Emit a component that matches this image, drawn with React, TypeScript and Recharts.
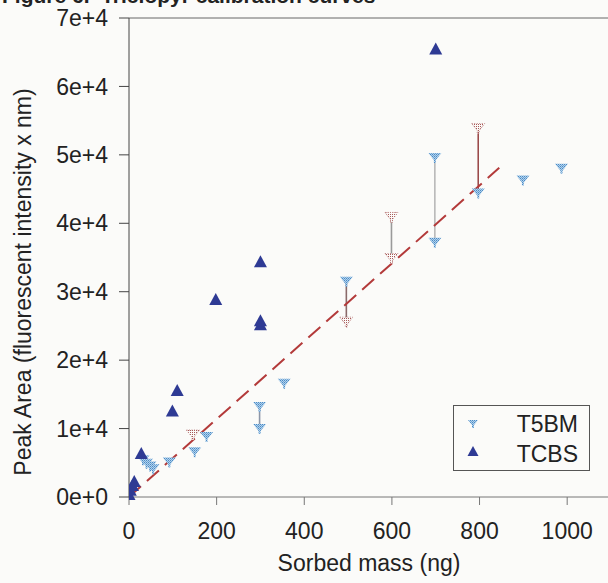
import React from 'react';
import { ScatterChart, Scatter, XAxis, YAxis, ReferenceLine, Legend, Label } from 'recharts';

// T5BM replicates (light blue, dithered)
const t5bmMass = [32, 40, 48, 55, 92, 150, 177, 298, 298, 354, 496, 698, 698, 797, 899, 987];
const t5bmArea = [5500, 5000, 4600, 4200, 5200, 6700, 8900, 13300, 10100, 16700, 31600, 37300, 49700, 44500, 46400, 48100];

// T5BM replicates drawn dotted (reddish / grey in the original)
const t5bmDotMass = [146, 496, 599, 599, 797];
const t5bmDotArea = [9200, 25700, 41000, 35000, 54000];

// TCBS
const tcbsMass = [0, 3, 8, 12, 28, 99, 110, 198, 300, 300, 300, 700];
const tcbsArea = [300, 900, 1600, 2200, 6300, 12500, 15500, 28800, 25100, 25700, 34300, 65400];

// replicate range bars: mass, low, high
const rangeMass = [298, 496, 599, 698, 797];
const rangeLow = [10100, 25700, 35000, 37300, 44500];
const rangeHigh = [13300, 31600, 41000, 49700, 54000];
const rangeColor = ['#8c96a8', '#8a6a6a', '#9a9a9a', '#b8b8b8', '#9b4a4a'];

// linear fit
const fitMass = [0, 845];
const fitArea = [0, 48100];

const xTicks = [0, 200, 400, 600, 800, 1000];
const yTicks = [0, 10000, 20000, 30000, 40000, 50000, 60000, 70000];

const toPts = (xs: number[], ys: number[]) => xs.map((x, i) => ({ x, y: ys[i] }));

const FONT = '"Liberation Sans", Arial, sans-serif';
const INK = '#222';
const FS = 23;

const UpTri = (props: any) => {
  const { cx, cy } = props;
  return <path d={`M${cx},${cy - 7} L${cx + 6.5},${cy + 5} L${cx - 6.5},${cy + 5} Z`} fill="#2e3a94" />;
};

const DownTri = (props: any) => {
  const { cx, cy } = props;
  return (
    <path
      d={`M${cx - 6.5},${cy - 4} L${cx + 6.5},${cy - 4} L${cx + 1},${cy + 3} L${cx + 1},${cy + 6} L${cx - 1},${cy + 6} L${cx - 1},${cy + 3} Z`}
      fill="url(#dotBlue)"
    />
  );
};

const DotTri = (props: any) => {
  const { cx, cy } = props;
  return (
    <path
      d={`M${cx - 6.5},${cy - 4} L${cx + 6.5},${cy - 4} L${cx + 1},${cy + 3} L${cx + 1},${cy + 6} L${cx - 1},${cy + 6} L${cx - 1},${cy + 3} Z`}
      fill="url(#dotRed)"
      stroke="#b06a6a"
      strokeWidth={0.8}
      strokeDasharray="1 1.5"
    />
  );
};

const NoDot = () => <g />;

const renderLegend = () => (
  <div
    style={{
      width: 135,
      height: 64,
      border: '1px solid #555',
      background: '#fbfbf9',
      fontFamily: FONT,
      fontSize: FS,
      color: INK,
    }}
  >
    {[
      { name: 'T5BM', shape: 'down' },
      { name: 'TCBS', shape: 'up' },
    ].map((e, i) => (
      <div key={e.name} style={{ position: 'relative', height: 32, lineHeight: '32px' }}>
        <svg width={20} height={20} style={{ position: 'absolute', left: 10, top: i === 0 ? 8 : 4 }}>
          {e.shape === 'down' ? (
            <path d="M4,6 L14,6 L10,11 L10,14 L8,14 L8,11 Z" fill="url(#dotBlue)" />
          ) : (
            <path d="M9,4 L14.5,14 L3.5,14 Z" fill="#2e3a94" />
          )}
        </svg>
        <span style={{ position: 'absolute', right: 11, top: i === 0 ? 2 : 0 }}>{e.name}</span>
      </div>
    ))}
  </div>
);

export default function App() {
  return (
    <div
      style={{
        position: 'absolute',
        left: 0,
        top: 0,
        width: 608,
        height: 583,
        overflow: 'hidden',
        background: '#fbfbf9',
      }}
    >
      <svg width={0} height={0} style={{ position: 'absolute' }}>
        <defs>
          <pattern id="dotBlue" width="2" height="2" patternUnits="userSpaceOnUse">
            <rect width="2" height="2" fill="#b3d3ec" />
            <rect width="1" height="1" fill="#4a8ac6" />
            <rect x="1" y="1" width="1" height="1" fill="#6fa3d4" />
          </pattern>
          <pattern id="dotRed" width="2" height="2" patternUnits="userSpaceOnUse">
            <rect width="2" height="2" fill="#fbfbf9" />
            <rect width="1" height="1" fill="#a85858" />
          </pattern>
        </defs>
      </svg>
      <div
        style={{
          position: 'absolute',
          left: 2,
          top: -15,
          fontFamily: FONT,
          fontWeight: 'bold',
          fontSize: 21,
          lineHeight: '21px',
          color: INK,
          whiteSpace: 'nowrap',
        }}
      >
        Figure 6.&nbsp;&nbsp;Triclopyr calibration curves
      </div>
      <ScatterChart width={620} height={583} margin={{ top: 18, right: 9, bottom: 0, left: 0 }}>
        <XAxis
          type="number"
          dataKey="x"
          domain={[0, 1100]}
          ticks={xTicks}
          allowDataOverflow
          height={86}
          stroke="#777"
          tickSize={8}
          tickMargin={18}
          tick={{ fill: INK, fontSize: FS, fontFamily: FONT }}
          label={
            <Label
              content={() => (
                <text x={369} y={571} textAnchor="middle" fill={INK} fontSize={FS} fontFamily={FONT}>
                  Sorbed mass (ng)
                </text>
              )}
            />
          }
        />
        <YAxis
          type="number"
          dataKey="y"
          domain={[0, 70000]}
          ticks={yTicks}
          width={129}
          stroke="#444"
          tickSize={10}
          tickMargin={11}
          tickFormatter={(v: number) => (v === 0 ? '0e+0' : `${v / 10000}e+4`)}
          tick={{ fill: INK, fontSize: FS, fontFamily: FONT }}
          label={
            <Label
              content={() => (
                <text
                  x={23}
                  y={282}
                  transform="rotate(-90 23 282)"
                  textAnchor="middle"
                  dominantBaseline="central"
                  fill={INK}
                  fontSize={FS}
                  fontFamily={FONT}
                >
                  Peak Area (fluorescent intensity x nm)
                </text>
              )}
            />
          }
        />
        <ReferenceLine y={70000} stroke="#666" strokeWidth={1} />
        {rangeMass.map((m, i) => (
          <Scatter
            key={m}
            data={toPts([m, m], [rangeLow[i], rangeHigh[i]])}
            line={{ stroke: rangeColor[i], strokeWidth: 1.6 }}
            shape={NoDot}
            legendType="none"
            isAnimationActive={false}
          />
        ))}
        <Scatter
          data={toPts(fitMass, fitArea)}
          line={{ stroke: '#b33a3a', strokeWidth: 2, strokeDasharray: '16 8' }}
          shape={NoDot}
          legendType="none"
          isAnimationActive={false}
        />
        <Scatter name="T5BM" data={toPts(t5bmMass, t5bmArea)} shape={DownTri} isAnimationActive={false} />
        <Scatter data={toPts(t5bmDotMass, t5bmDotArea)} shape={DotTri} legendType="none" isAnimationActive={false} />
        <Scatter name="TCBS" data={toPts(tcbsMass, tcbsArea)} shape={UpTri} isAnimationActive={false} />
        <Legend
          layout="vertical"
          align="center"
          verticalAlign="middle"
          content={renderLegend}
          wrapperStyle={{ position: 'absolute', left: 453, top: 405, width: 137, height: 66 }}
        />
      </ScatterChart>
    </div>
  );
}
